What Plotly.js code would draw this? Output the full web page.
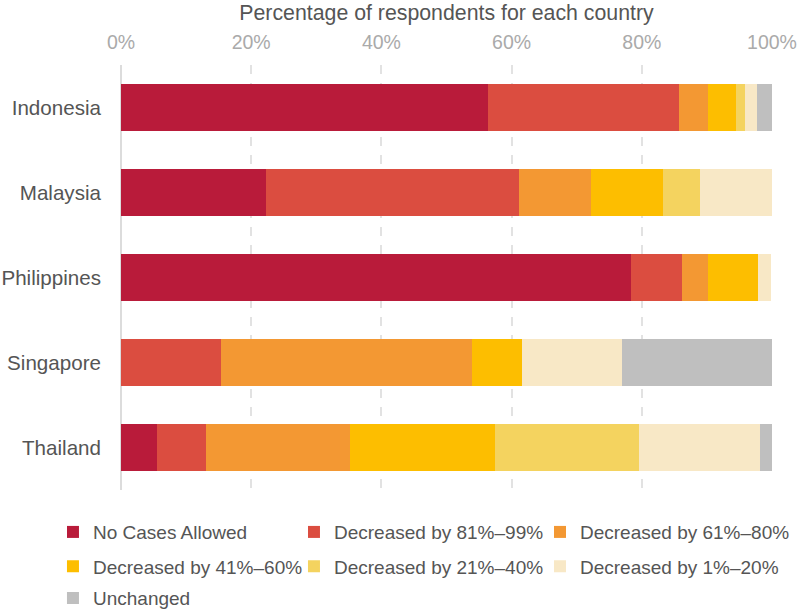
<!DOCTYPE html>
<html>
<head>
<meta charset="utf-8">
<script src="https://cdn.plot.ly/plotly-3.0.1.min.js"></script>
<style>
  body { margin: 0; background: #fff; }
  #chart { width: 800px; height: 612px; }
</style>
</head>
<body>
<div id="chart"></div>
<script>
var countries = ["Indonesia", "Malaysia", "Philippines", "Singapore", "Thailand"];

var seriesNames = ["No Cases Allowed", "Decreased by 81%–99%", "Decreased by 61%–80%",
    "Decreased by 41%–60%", "Decreased by 21%–40%", "Decreased by 1%–20%", "Unchanged"];

// share of respondents (%), one array per answer, in country order
var noCases   = [56.3, 22.2, 78.4, 0, 5.6];
var dec81to99 = [29.4, 38.9, 7.8, 15.4, 7.4];
var dec61to80 = [4.4, 11.1, 3.9, 38.5, 22.2];
var dec41to60 = [4.4, 11.1, 7.8, 7.7, 22.2];
var dec21to40 = [1.3, 5.6, 0, 0, 22.2];
var dec1to20  = [1.9, 11.1, 2.0, 15.4, 18.5];
var unchanged = [2.5, 0, 0, 23.1, 1.9];

var tickValues = [0, 20, 40, 60, 80, 100];
var tickLabels = ["0%", "20%", "40%", "60%", "80%", "100%"];

var seriesValues = [noCases, dec81to99, dec61to80, dec41to60, dec21to40, dec1to20, unchanged];
var colors = ["#B91B3A", "#DB4D40", "#F39833", "#FDBE00", "#F4D35F", "#F8E8C6", "#BFBFBF"];

var fontName = "'Liberation Sans', Arial, sans-serif";

// legend is a 3-column grid below the plot; one small legend per entry
var legendCols = [-0.1045, 0.2657, 0.6436];
var legendRows = [-0.099, -0.18, -0.2545];

var data = [];
var layout = {
    width: 800,
    height: 612,
    barmode: 'stack',
    bargap: 0.45,
    margin: { l: 121, r: 28, t: 65, b: 122, autoexpand: false },
    paper_bgcolor: '#fff',
    plot_bgcolor: '#fff',
    font: { family: fontName, color: '#555' },
    showlegend: true,
    xaxis: {
        side: 'top',
        range: [0, 100],
        tickmode: 'array',
        tickvals: tickValues,
        ticktext: tickLabels,
        tickfont: { size: 19.5, color: '#aaa' },
        showgrid: true,
        gridcolor: '#e2e2e2',
        gridwidth: 2,
        griddash: 'dash',
        zeroline: true,
        zerolinecolor: '#dcdcdc',
        zerolinewidth: 2,
        showline: false,
        ticks: '',
        ticklabelstandoff: 11,
        title: {
            text: 'Percentage of respondents for each country',
            font: { size: 21.3, color: '#555' },
            standoff: 4
        }
    },
    yaxis: {
        autorange: 'reversed',
        tickfont: { size: 20.6, color: '#555' },
        showgrid: false,
        zeroline: false,
        showline: false,
        ticks: '',
        ticklabelstandoff: 19
    }
};

for (var i = 0; i < seriesNames.length; i++) {
    var legendId = i === 0 ? 'legend' : 'legend' + (i + 1);
    data.push({
        type: 'bar',
        orientation: 'h',
        name: seriesNames[i],
        y: countries,
        x: seriesValues[i],
        legend: legendId,
        marker: { color: colors[i], line: { width: 0 } },
        hoverinfo: 'none'
    });
    layout[legendId] = {
        orientation: 'h',
        x: legendCols[i % 3],
        xanchor: 'left',
        y: legendRows[Math.floor(i / 3)],
        yanchor: 'middle',
        font: { size: 19, color: '#555' },
        bgcolor: 'rgba(0,0,0,0)'
    };
}

Plotly.newPlot('chart', data, layout, { staticPlot: true });
</script>
</body>
</html>
